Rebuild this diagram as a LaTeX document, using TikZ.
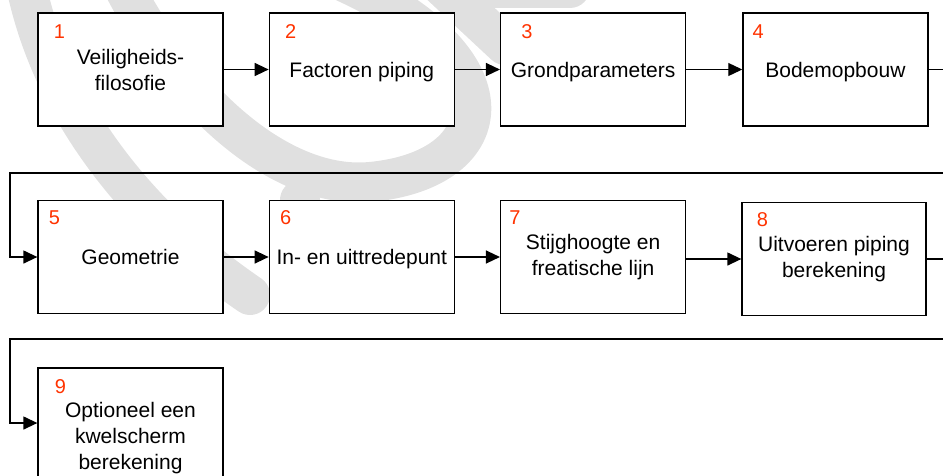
\documentclass[tikz,border=0pt]{standalone}
\usepackage{fontspec}
\setmainfont{Liberation Sans}
\usepackage{tikz}
\usetikzlibrary{arrows.meta,positioning}

\definecolor{wmgray}{RGB}{224,224,224}
\definecolor{numred}{RGB}{255,51,0}

\begin{document}
\begin{tikzpicture}[x=1pt, y=-1pt,
        box/.style={draw, fill=white, line width=1.3pt, minimum width=185pt, minimum height=113pt,
            align=center, font=\fontsize{21}{26}\selectfont},
        oneline/.style={text depth=0pt},
        num/.style={text=numred, inner sep=0pt, font=\fontsize{20}{24}\selectfont},
        flow/.style={-{Triangle[length=14pt, width=13pt]}, line width=1.3pt},
        wmband/.style={draw=wmgray, line width=40pt, line cap=round}]
        \useasboundingbox (0,0) rectangle (943,475);
        \clip (0,0) rectangle (943,475);

        % watermark
        \draw[wmband] (25,-20) .. controls (50,110) and (140,220) .. (250,295);
        \draw[wmband] (120,-20) .. controls (180,100) and (280,190) .. (370,182)
            .. controls (500,170) and (520,60) .. (340,-20);
        \draw[wmband] (430,-25) -- (505,45);
        \draw[wmband] (470,-12) -- (570,-12);
        \draw[wmband] (300,200) -- (305,260);

        % first row
        \node (b1) [box] at (130.5,69.5) {Veiligheids-\\filosofie};
        \node (b2) [box, oneline, right=45pt of b1] {Factoren piping};
        \node (b3) [box, oneline, right=45pt of b2] {Grondparameters};
        \node (b4) [box, oneline, right=56pt of b3] {Bodemopbouw};

        % second row
        \node (b5) [box, oneline] at (130.5,257) {Geometrie};
        \node (b6) [box, oneline, right=45pt of b5] {In- en uittredepunt};
        \node (b7) [box, right=45pt of b6] {Stijghoogte en\\freatische lijn};
        \node (b8) [box, minimum width=184pt] at (834,259) {Uitvoeren piping\\berekening};

        % third row
        \node (b9) [box, minimum height=140pt] at (130.5,438) {Optioneel een\\kwelscherm\\berekening};

        % step numbers
        \node (n1) [num] at ([xshift=22pt, yshift=-19pt]b1.north west) {1};
        \node (n2) [num] at ([xshift=22pt, yshift=-19pt]b2.north west) {2};
        \node (n3) [num] at ([xshift=27pt, yshift=-19pt]b3.north west) {3};
        \node (n4) [num] at ([xshift=16pt, yshift=-19pt]b4.north west) {4};
        \node (n5) [num] at ([xshift=17pt, yshift=-18pt]b5.north west) {5};
        \node (n6) [num] at ([xshift=17pt, yshift=-18pt]b6.north west) {6};
        \node (n7) [num] at ([xshift=15pt, yshift=-18pt]b7.north west) {7};
        \node (n8) [num] at ([xshift=21pt, yshift=-18pt]b8.north west) {8};
        \node (n9) [num] at ([xshift=23pt, yshift=-19pt]b9.north west) {9};

        \draw[flow] (b1) -- (b2);
        \draw[flow] (b2) -- (b3);
        \draw[flow] (b3) -- (b4);
        \draw[flow] (b4.east) -- ++(30,0) |- (10,173) |- (b5.west);
        \draw[flow] (b5) -- (b6);
        \draw[flow] (b6) -- (b7);
        \draw[flow] (b7.east |- b8) -- (b8.west);
        \draw[flow] (b8.east) -- ++(30,0) |- (10,339) |- ([yshift=15pt]b9.west);
    \end{tikzpicture}
\end{document}
